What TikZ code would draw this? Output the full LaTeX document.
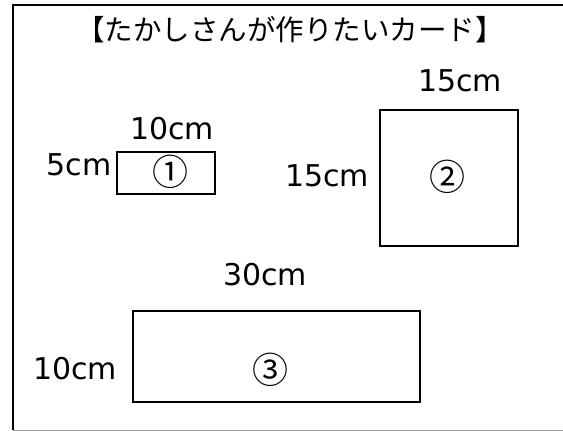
\documentclass[tikz,border=0pt]{standalone}
\usepackage{fontspec}
\setmainfont{DejaVu Sans}
\newfontfamily\jpfont{Noto Sans CJK JP}
\begin{document}
\begin{tikzpicture}[x=1pt,y=-1pt,
    card/.style={draw,line width=1.5pt,inner sep=0pt},
    dim/.style={font=\fontsize{30}{30}\selectfont},
    num/.style={font=\jpfont\fontsize{36}{36}\selectfont}]
                \useasboundingbox (0,0) rectangle (563,431);
                %% frame
                \draw[line width=2pt] (563,5) -- (13,5) -- (13,430);
                \draw[line width=1pt,black!40] (13,430) -- (563,430);
                %% title
                \node[anchor=center,font=\jpfont\fontsize{28.5}{28.5}\selectfont] (T) at (290,30) {【たかしさんが作りたいカード】};
                %% cards
                \node[card,anchor=center,minimum width=98pt,minimum height=42pt] (C1) at (166,173) {};
                \node[card,anchor=center,minimum width=138pt,minimum height=136pt] (C2) at (449,178) {};
                \node[card,anchor=center,minimum width=287pt,minimum height=91pt] (C3) at (276.5,356.5) {};
                %% numbers
                \node[num] (N1) at (170,172) {①};
                \node[num] (N2) at (447,177) {②};
                \node[num] (N3) at (270,370) {③};
                %% sizes
                \node[dim] (W1) at (172,129) {10cm};
                \node[dim] (H1) at (79,165) {5cm};
                \node[dim] (W2) at (460,81) {15cm};
                \node[dim] (H2) at (327,176) {15cm};
                \node[dim] (W3) at (265,275) {30cm};
                \node[dim] (H3) at (75,369) {10cm};
            \end{tikzpicture}
\end{document}
